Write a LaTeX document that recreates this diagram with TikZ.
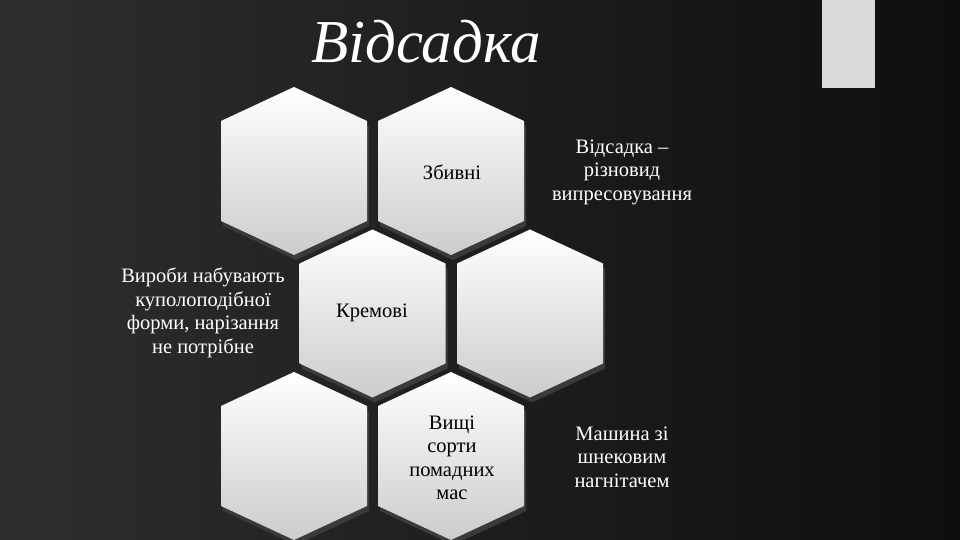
\documentclass[tikz,border=0pt]{standalone}
\usepackage{fontspec}
\setmainfont{Liberation Serif}
\usetikzlibrary{shadows}

\definecolor{bgdark}{RGB}{14,14,14}
\definecolor{bglight}{RGB}{46,46,46}
\definecolor{hexlow}{RGB}{204,204,204}
\definecolor{hexshade}{RGB}{58,58,58}
\definecolor{barlight}{RGB}{217,217,217}

\tikzset{
  hexback/.style={fill=hexshade},
  hexa/.style={top color=white, bottom color=hexlow},
  intext/.style={text=black, align=center, font=\fontsize{20.5}{23.5}\selectfont},
  outtext/.style={text=white, align=center, font=\fontsize{20.5}{23.5}\selectfont},
  headline/.style={text=white, anchor=base, font=\fontsize{61}{72}\selectfont\itshape}
}

\begin{document}
\begin{tikzpicture}[x=1pt, y=1pt]
      \useasboundingbox (0, 0) rectangle (960, 540);
      \fill[left color=bglight, right color=bgdark] (0, 0) rectangle (960, 540);
      \fill[barlight] (822, 452) rectangle (875, 540);

      \node[headline] (title) at(426, 477){Відсадка};

      % shadows under the cells
      \begin{scope}[shift={(2, -5)}]
      \path[hexback] (294, 453) -- (367, 419) -- (367, 319) -- (294, 285) -- (221, 319) -- (221, 419) -- cycle;
      \path[hexback] (451, 453) -- (524, 419) -- (524, 319) -- (451, 285) -- (378, 319) -- (378, 419) -- cycle;
      \path[hexback] (372.5, 310.5) -- (445.5, 276.5) -- (445.5, 176.5) -- (372.5, 142.5) -- (299.5, 176.5) -- (299.5, 276.5) -- cycle;
      \path[hexback] (530, 310.5) -- (603, 276.5) -- (603, 176.5) -- (530, 142.5) -- (457, 176.5) -- (457, 276.5) -- cycle;
      \path[hexback] (294, 168) -- (367, 134) -- (367, 34) -- (294, 0) -- (221, 34) -- (221, 134) -- cycle;
      \path[hexback] (451, 168) -- (524, 134) -- (524, 34) -- (451, 0) -- (378, 34) -- (378, 134) -- cycle;
      \end{scope}

      % top row
      \path[hexa] (294, 453) -- (367, 419) -- (367, 319) -- (294, 285) -- (221, 319) -- (221, 419) -- cycle;
      \path[hexa] (451, 453) -- (524, 419) -- (524, 319) -- (451, 285) -- (378, 319) -- (378, 419) -- cycle;
        \node[intext] (zbyvni) at(452, 368){Збивні};

      % middle row
      \path[hexa] (372.5, 310.5) -- (445.5, 276.5) -- (445.5, 176.5) -- (372.5, 142.5) -- (299.5, 176.5) -- (299.5, 276.5) -- cycle;
        \node[intext] (kremovi) at(372, 227){Кремові};
      \path[hexa] (530, 310.5) -- (603, 276.5) -- (603, 176.5) -- (530, 142.5) -- (457, 176.5) -- (457, 276.5) -- cycle;

      % bottom row
      \path[hexa] (294, 168) -- (367, 134) -- (367, 34) -- (294, 0) -- (221, 34) -- (221, 134) -- cycle;
      \path[hexa] (451, 168) -- (524, 134) -- (524, 34) -- (451, 0) -- (378, 34) -- (378, 134) -- cycle;
        \node[intext] (vyshchi) at(452, 82){Вищі\\сорти\\помадних\\мас};

      \node[outtext] (vidsadka) at(622, 368){Відсадка –\\різновид\\випресовування};
      \node[outtext] (vyroby) at(203, 227){Вироби набувають\\куполоподібної\\форми, нарізання\\не потрібне};
      \node[outtext] (mashyna) at(622, 83){Машина зі\\шнековим\\нагнітачем};

    \end{tikzpicture}
\end{document}
